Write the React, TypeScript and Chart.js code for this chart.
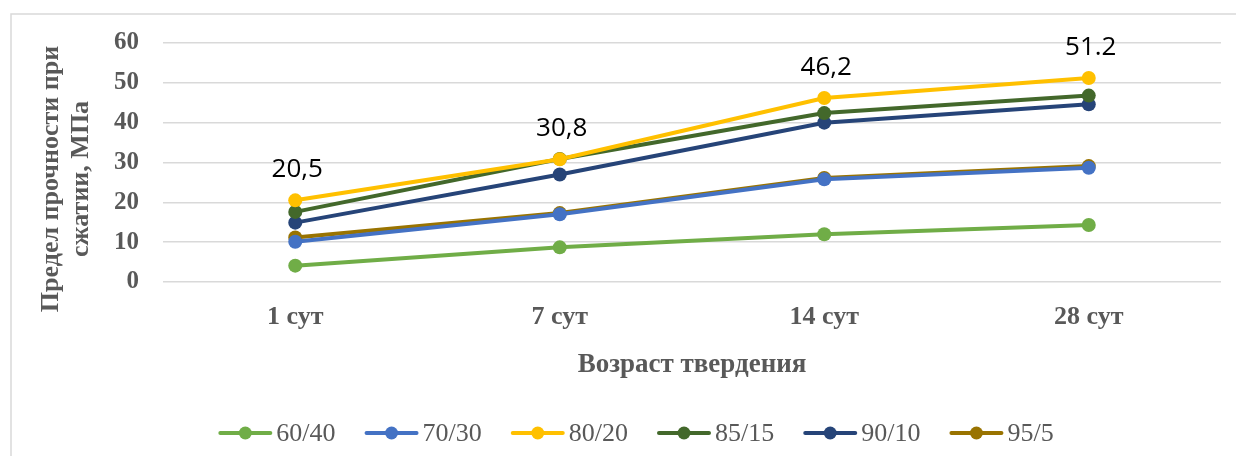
import React, { useEffect, useRef } from "react";
import { Chart, registerables } from "chart.js";

Chart.register(...registerables);

const categories = ["1 сут", "7 сут", "14 сут", "28 сут"];
const seriesNames = ["60/40", "70/30", "80/20", "85/15", "90/10", "95/5"];
const seriesColors = ["#70AD47", "#4472C4", "#FFC000", "#43682B", "#264478", "#997300"];
const s6040 = [4.1, 8.7, 12.0, 14.3];
const s7030 = [10.1, 17.0, 25.8, 28.7];
const s8020 = [20.5, 30.8, 46.2, 51.2];
const s8515 = [17.6, 30.9, 42.4, 46.8];
const s9010 = [14.9, 27.0, 40.0, 44.6];
const s955 = [11.2, 17.3, 26.1, 29.1];
const seriesValues = [s6040, s7030, s8020, s8515, s9010, s955];
const labeledSeries = 2;
const pointLabels = ["20,5", "30,8", "46,2", "51.2"];
const yTitleLines = ["Предел прочности при", "сжатии, МПа"];
const xTitle = "Возраст твердения";

const GREY = "#595959";

const decorPlugin = {
  id: "decor",
  beforeDraw(chart: any) {
    const ctx = chart.ctx;
    ctx.save();
    ctx.strokeStyle = "#d9d9d9";
    ctx.lineWidth = 1.5;
    ctx.beginPath();
    ctx.moveTo(11, 456);
    ctx.lineTo(11, 14);
    ctx.lineTo(1236, 14);
    ctx.stroke();
    ctx.restore();
  },
  afterDraw(chart: any) {
    const ctx = chart.ctx;
    ctx.save();
    // y title
    ctx.fillStyle = GREY;
    ctx.font = "bold 26px 'Liberation Serif'";
    ctx.textAlign = "center";
    ctx.textBaseline = "alphabetic";
    ctx.translate(0, 179);
    ctx.rotate(-Math.PI / 2);
    ctx.fillText(yTitleLines[0], 0, 58);
    ctx.fillText(yTitleLines[1], 0, 88);
    ctx.restore();

    // x title
    ctx.save();
    ctx.fillStyle = GREY;
    ctx.font = "bold 27px 'Liberation Serif'";
    ctx.textAlign = "center";
    ctx.textBaseline = "alphabetic";
    const ca = chart.chartArea;
    ctx.fillText(xTitle, (ca.left + ca.right) / 2, 372);
    ctx.restore();

    // data labels
    ctx.save();
    const meta = chart.getDatasetMeta(labeledSeries);
    ctx.fillStyle = "#000000";
    ctx.font = "26px 'Open Sans'";
    ctx.textAlign = "center";
    ctx.textBaseline = "alphabetic";
    meta.data.forEach((pt: any, i: number) => {
      ctx.fillText(pointLabels[i], pt.x + 2, pt.y - 23);
    });
    ctx.restore();

    // legend
    ctx.save();
    ctx.font = "26px 'Liberation Serif'";
    const markerW = 54;
    const textGap = 4;
    const itemGap = 29;
    const widths = chart.data.datasets.map((d: any) => ctx.measureText(d.label).width);
    let total = 0;
    widths.forEach((w: number, i: number) => {
      total += markerW + textGap + w + (i < widths.length - 1 ? itemGap : 0);
    });
    let x = 636 - total / 2;
    const y = 433;
    chart.data.datasets.forEach((d: any, i: number) => {
      ctx.strokeStyle = d.borderColor;
      ctx.lineWidth = 4;
      ctx.lineCap = "round";
      ctx.beginPath();
      ctx.moveTo(x + 2, y);
      ctx.lineTo(x + markerW - 2, y);
      ctx.stroke();
      ctx.fillStyle = d.borderColor;
      ctx.beginPath();
      ctx.arc(x + markerW / 2, y, 6.5, 0, Math.PI * 2);
      ctx.fill();
      ctx.fillStyle = GREY;
      ctx.textAlign = "left";
      ctx.textBaseline = "middle";
      ctx.fillText(d.label, x + markerW + textGap, y + 1);
      x += markerW + textGap + widths[i] + itemGap;
    });
    ctx.restore();
  },
};

export default function App() {
  const ref = useRef<HTMLCanvasElement | null>(null);
  useEffect(() => {
    document.body.style.margin = "0";
    if (!ref.current) return;
    const chart = new Chart(ref.current, {
      type: "line",
      data: {
        labels: categories,
        datasets: seriesNames.map((name, i) => ({
          label: name,
          data: seriesValues[i],
          borderColor: seriesColors[i],
          backgroundColor: seriesColors[i],
          pointBackgroundColor: seriesColors[i],
          pointBorderColor: seriesColors[i],
          borderWidth: 4,
          pointRadius: 7,
          pointBorderWidth: 0,
          tension: 0,
          fill: false,
        })),
      },
      options: {
        responsive: false,
        animation: false,
        devicePixelRatio: 1,
        layout: { padding: { top: 43, right: 15, left: 0, bottom: 0 } },
        plugins: {
          legend: { display: false },
          tooltip: { enabled: false },
        },
        scales: {
          x: {
            offset: true,
            grid: { display: false, drawTicks: false },
            border: { display: false },
            ticks: {
              color: GREY,
              font: { family: "'Liberation Serif'", size: 26, weight: "bold" },
              padding: 20,
              maxRotation: 0,
            },
            afterFit: (scale: any) => {
              scale.height = 174;
            },
          },
          y: {
            min: 0,
            max: 60,
            grid: { color: "#d9d9d9", lineWidth: 1.5, drawTicks: false },
            border: { display: false },
            ticks: {
              stepSize: 10,
              color: GREY,
              font: { family: "'Liberation Serif'", size: 25, weight: "bold" },
              padding: 24,
            },
            afterFit: (scale: any) => {
              scale.width = 163;
            },
          },
        },
      },
      plugins: [decorPlugin],
    });
    return () => chart.destroy();
  }, []);
  return <canvas ref={ref} width={1236} height={456} style={{ display: "block" }} />;
}
